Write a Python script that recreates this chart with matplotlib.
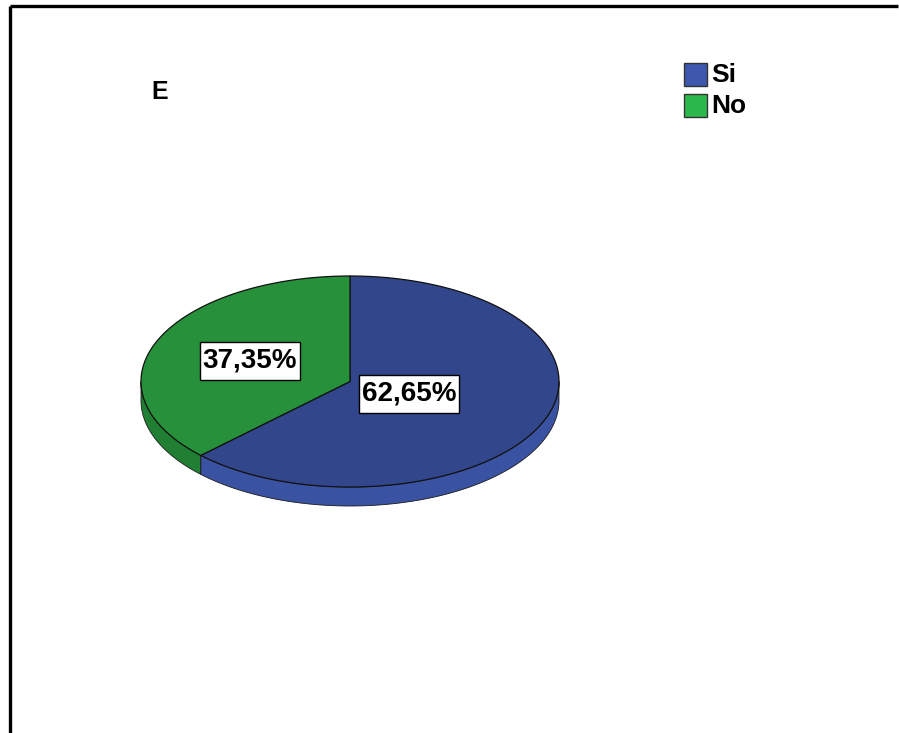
import numpy as np
import matplotlib
matplotlib.use("Agg")
import matplotlib.pyplot as plt
from matplotlib.patches import Polygon, Rectangle

plt.rcParams['font.family'] = ['Liberation Sans', 'DejaVu Sans']

categories = ["Si", "No"]
percentages = [62.65, 37.35]
labels = ["62,65%", "37,35%"]
title = "E"

top_colors = ["#32468c", "#26913a"]
side_colors = ["#3a52a2", "#217f33"]
legend_colors = ["#3d58ad", "#2cb84c"]

W, H = 899, 733
fig = plt.figure(figsize=(W / 100, H / 100), dpi=100)
ax = fig.add_axes([0, 0, 1, 1])
ax.set_xlim(0, W)
ax.set_ylim(H, 0)
ax.axis("off")

# frame (top and left edges)
ax.plot([9.5, 898], [6, 6], color="black", lw=2.4, solid_capstyle="butt")
ax.plot([9.5, 9.5], [6, H], color="black", lw=2.4, solid_capstyle="butt")

# ellipse geometry of the tilted pie
cx, cy, rx, ry, depth = 350, 381.5, 209, 105.5, 19


def pt(theta_deg, dy=0.0, r=1.0):
    t = np.radians(theta_deg)
    return cx + r * rx * np.cos(t), cy - r * ry * np.sin(t) + dy


# "No" runs counter-clockwise from 12 o'clock, "Si" fills the remainder
fr = np.array(percentages) / sum(percentages)
start_no = 90.0
end_no = start_no + 360 * fr[1]
spans = {1: (start_no, end_no), 0: (end_no, 450.0)}

# side walls (visible front part: 180..360 degrees)
for i in (1, 0):
    a0, a1 = spans[i]
    lo, hi = max(a0, 180.0), min(a1, 360.0)
    if hi <= lo:
        continue
    th = np.linspace(lo, hi, 200)
    top = [pt(t) for t in th]
    bot = [pt(t, depth) for t in th[::-1]]
    ax.add_patch(Polygon(top + bot, closed=True, facecolor=side_colors[i],
                         edgecolor="#1a1a1a", lw=0.6, zorder=2))

# top faces
for i in (0, 1):
    a0, a1 = spans[i]
    th = np.linspace(a0, a1, 300)
    poly = [(cx, cy)] + [pt(t) for t in th]
    ax.add_patch(Polygon(poly, closed=True, facecolor=top_colors[i],
                         edgecolor="#111111", lw=0.9, joinstyle="round", zorder=3))

# percentage labels in white boxes (tight at the sides, roomier above/below)
label_r = {0: 0.306, 1: 0.52}
label_texts = []
for i in (0, 1):
    a0, a1 = spans[i]
    mid = (a0 + a1) / 2
    x, y = pt(mid, r=label_r[i])
    t = ax.text(x, y, labels[i], ha="center", va="center", fontsize=20,
                fontweight="bold", color="black", zorder=6)
    label_texts.append((t, x, y))

fig.canvas.draw()
renderer = fig.canvas.get_renderer()
for t, x, y in label_texts:
    bb = t.get_window_extent(renderer)
    w = bb.width + 6
    h = 38
    ax.add_patch(Rectangle((x - w / 2, y - h / 2 + 0.5), w, h, facecolor="white",
                           edgecolor="black", lw=1.0, zorder=5))

# title
ax.text(160, 92, title, ha="center", va="center", fontsize=18,
        fontweight="bold", color="black")

# legend
for k, name in enumerate(categories):
    y0 = 63 + k * 31
    ax.add_patch(Rectangle((684, y0), 23, 23, facecolor=legend_colors[k],
                           edgecolor="#333333", lw=1.0, zorder=4))
    ax.text(711, y0 + 12, name, ha="left", va="center", fontsize=19,
            fontweight="bold", color="black")

fig.savefig("out.png", dpi=100)
